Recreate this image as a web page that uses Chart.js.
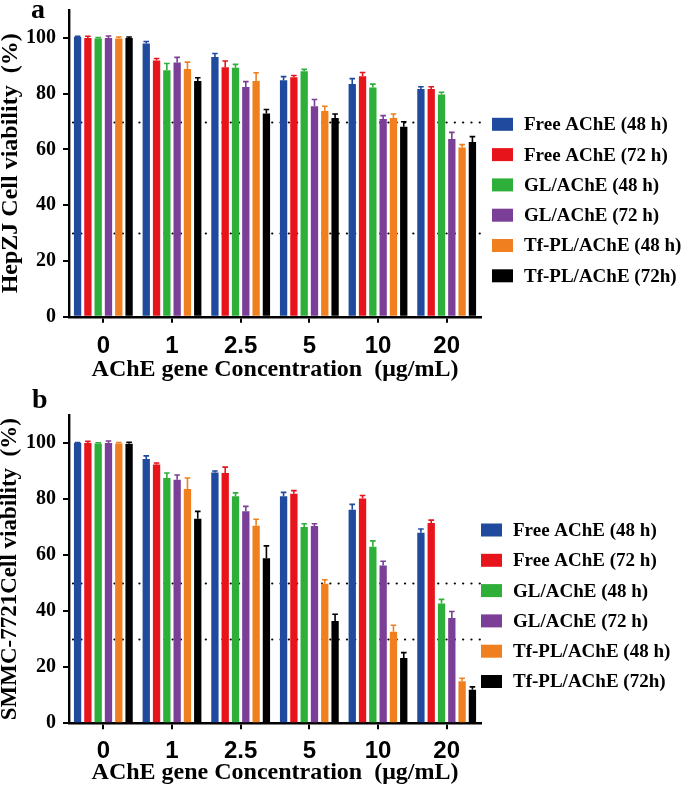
<!DOCTYPE html>
<html>
<head>
<meta charset="utf-8">
<script src="https://cdn.jsdelivr.net/npm/chart.js@4.4.0/dist/chart.umd.min.js"></script>
<style>
  html, body { margin: 0; padding: 0; background: #ffffff; }
  #wrap { position: relative; width: 685px; height: 788px; overflow: hidden; background: #fff; }
  canvas { position: absolute; left: 0; }
  .plabel { position: absolute; font-family: "Liberation Serif", "Times New Roman", serif; font-weight: bold; font-size: 28px; line-height: 1; }
</style>
</head>
<body>
<div id="wrap">
  <canvas id="chartA" width="685" height="390" style="top:0px"></canvas>
  <canvas id="chartB" width="685" height="398" style="top:390px"></canvas>
  <div class="plabel" style="left:31px; top:-5px;">a</div>
  <div class="plabel" style="left:32px; top:385px;">b</div>
</div>
<script>
// ---------------- DATA ----------------
const categories = ['0', '1', '2.5', '5', '10', '20'];
const seriesLabels = ['Free AChE (48 h)', 'Free AChE (72 h)', 'GL/AChE (48 h)', 'GL/AChE (72 h)', 'Tf-PL/AChE (48 h)', 'Tf-PL/AChE (72h)'];
const seriesColors = ['#1F4A9E', '#E8141C', '#2EAF3A', '#7B3F98', '#F0801F', '#000000'];

// Panel a: HepZJ
const hepFree48 = [100.3, 98.0, 93.1, 84.8, 83.5, 81.7];
const hepFree72 = [100.0, 91.9, 89.5, 85.9, 86.2, 81.7];
const hepGL48   = [99.8, 88.4, 89.3, 88.0, 82.2, 79.7];
const hepGL72   = [100.0, 91.2, 82.4, 75.5, 70.9, 63.7];
const hepTf48   = [99.8, 88.8, 84.5, 73.8, 71.3, 60.7];
const hepTf72   = [100.0, 84.5, 72.9, 71.3, 68.1, 62.7];
const hepFree48Err = [0.3, 0.7, 1.3, 1.3, 1.9, 0.8];
const hepFree72Err = [0.6, 0.7, 2.2, 0.6, 1.4, 0.8];
const hepGL48Err   = [0.3, 2.4, 1.2, 0.7, 1.2, 0.8];
const hepGL72Err   = [0.7, 1.8, 1.9, 2.4, 1.2, 2.4];
const hepTf48Err   = [0.5, 2.5, 3.0, 1.7, 1.4, 1.0];
const hepTf72Err   = [0.3, 1.2, 1.4, 1.4, 1.8, 1.9];
const hepRefLines  = [70, 30];

// Panel b: SMMC-7721
const smmcFree48 = [100.0, 94.3, 89.5, 81.0, 76.2, 68.0];
const smmcFree72 = [100.0, 92.3, 89.3, 81.9, 80.2, 71.5];
const smmcGL48   = [99.8, 87.5, 81.0, 70.0, 63.0, 42.7];
const smmcGL72   = [100.0, 86.9, 75.7, 70.4, 56.3, 37.6];
const smmcTf48   = [99.8, 83.6, 70.5, 49.8, 32.7, 15.0];
const smmcTf72   = [99.7, 73.0, 58.9, 36.5, 23.3, 12.0];
const smmcFree48Err = [0.2, 1.1, 0.5, 1.4, 1.9, 1.3];
const smmcFree72Err = [0.6, 0.6, 2.1, 1.1, 1.1, 1.0];
const smmcGL48Err   = [0.3, 1.8, 1.2, 1.2, 2.1, 1.5];
const smmcGL72Err   = [0.7, 1.7, 1.7, 0.8, 1.5, 2.3];
const smmcTf48Err   = [0.4, 3.9, 2.3, 1.4, 2.3, 1.1];
const smmcTf72Err   = [0.6, 2.6, 4.4, 2.4, 1.9, 1.0];
const smmcRefLines  = [50, 30];

const yTicks = [0, 20, 40, 60, 80, 100];
const yMax = 110;

// ---------------- PLUGINS ----------------
const SERIF = '"Liberation Serif", "Times New Roman", serif';
const SANS = '"Liberation Sans", Arial, sans-serif';

const refLinesPlugin = {
  id: 'refLines',
  beforeDatasetsDraw(chart, args, opts) {
    const { ctx, chartArea } = chart;
    const ys = chart.scales.y;
    ctx.save();
    ctx.strokeStyle = '#000';
    ctx.lineWidth = 2.2;
    ctx.lineCap = 'round';
    ctx.setLineDash([0.1, 8.2]);
    (opts.values || []).forEach(v => {
      const y = Math.round(ys.getPixelForValue(v)) + 0.5;
      ctx.beginPath();
      ctx.moveTo(chartArea.left + 4, y);
      ctx.lineTo(chartArea.right - 1, y);
      ctx.stroke();
    });
    ctx.restore();
  }
};

const errorBarsPlugin = {
  id: 'errorBars',
  afterDatasetsDraw(chart) {
    const ctx = chart.ctx;
    const ys = chart.scales.y;
    chart.data.datasets.forEach((ds, i) => {
      const meta = chart.getDatasetMeta(i);
      meta.data.forEach((bar, j) => {
        const e = ds.errors ? ds.errors[j] : 0;
        if (!e) return;
        const yTop = ys.getPixelForValue(ds.data[j] + e);
        ctx.save();
        ctx.strokeStyle = ds.backgroundColor;
        ctx.lineWidth = 1.6;
        ctx.beginPath();
        ctx.moveTo(bar.x, bar.y);
        ctx.lineTo(bar.x, yTop);
        ctx.moveTo(bar.x - 2.8, yTop);
        ctx.lineTo(bar.x + 2.8, yTop);
        ctx.stroke();
        ctx.restore();
      });
    });
  }
};

const sideLegendPlugin = {
  id: 'sideLegend',
  afterDraw(chart, args, opts) {
    const ctx = chart.ctx;
    ctx.save();
    ctx.font = 'bold 19px ' + SERIF;
    ctx.textBaseline = 'middle';
    ctx.textAlign = 'left';
    chart.data.datasets.forEach((ds, i) => {
      const cy = opts.y + i * opts.step;
      ctx.fillStyle = ds.backgroundColor;
      ctx.fillRect(opts.x, cy - 6.5, 21, 13);
      ctx.fillStyle = '#000';
      ctx.fillText(ds.label, opts.x + 32, cy + 1);
    });
    ctx.restore();
  }
};

// ---------------- BUILDER ----------------
function makeChart(id, seriesData, seriesErr, refs, yTitle, cfg) {
  const datasets = seriesData.map((d, i) => ({
    label: seriesLabels[i],
    data: d,
    errors: seriesErr[i],
    backgroundColor: seriesColors[i],
    borderWidth: 0,
    barPercentage: 0.71,
    categoryPercentage: 0.9
  }));
  return new Chart(document.getElementById(id), {
    type: 'bar',
    data: { labels: categories, datasets },
    plugins: [refLinesPlugin, errorBarsPlugin, sideLegendPlugin],
    options: {
      responsive: false,
      animation: false,
      devicePixelRatio: 1,
      layout: { padding: { left: 0, top: cfg.top, right: 204, bottom: 0 } },
      plugins: {
        legend: { display: false },
        tooltip: { enabled: false },
        refLines: { values: refs },
        sideLegend: { x: cfg.legX, y: cfg.legY, step: 30.3 }
      },
      scales: {
        x: {
          offset: true,
          grid: { display: true, drawOnChartArea: false, drawTicks: true, tickLength: 6, offset: false, color: '#000', lineWidth: 2 },
          border: { display: true, color: '#000', width: 2.4 },
          ticks: { color: '#000', font: { family: SANS, weight: 'bold', size: 24 }, padding: cfg.xPad, maxRotation: 0, autoSkip: false },
          title: { display: true, text: 'AChE gene Concentration  (\u03bcg/mL)', color: '#000', font: { family: SERIF, weight: 'bold', size: 24 }, padding: { top: 0, bottom: cfg.titlePad } },
          afterFit(scale) { scale.height = cfg.xH; scale.paddingLeft = 0; scale.paddingRight = 0; }
        },
        y: {
          min: 0, max: yMax,
          grid: { display: true, drawOnChartArea: false, drawTicks: true, tickLength: 6, color: '#000', lineWidth: 2 },
          border: { display: true, color: '#000', width: 2.4 },
          ticks: { color: '#000', font: { family: SERIF, weight: 'bold', size: 20 }, padding: 7 },
          afterBuildTicks(axis) { axis.ticks = yTicks.map(v => ({ value: v })); },
          title: { display: true, text: yTitle, color: '#000', font: { family: SERIF, weight: 'bold', size: cfg.yTitleSize, lineHeight: 0.9 }, padding: { top: 0, bottom: 0 } },
          afterFit(scale) { scale.width = 69; scale.paddingTop = 0; scale.paddingBottom = 0; }
        }
      }
    }
  });
}

makeChart('chartA',
  [hepFree48, hepFree72, hepGL48, hepGL72, hepTf48, hepTf72],
  [hepFree48Err, hepFree72Err, hepGL48Err, hepGL72Err, hepTf48Err, hepTf72Err],
  hepRefLines, 'HepZJ Cell viability  (%)',
  { top: 10, xH: 73.3, xPad: 9, titlePad: 6, legX: 492, legY: 124.3, yTitleSize: 24 });

makeChart('chartB',
  [smmcFree48, smmcFree72, smmcGL48, smmcGL72, smmcTf48, smmcTf72],
  [smmcFree48Err, smmcFree72Err, smmcGL48Err, smmcGL72Err, smmcTf48Err, smmcTf72Err],
  smmcRefLines, 'SMMC-7721Cell viability  (%)',
  { top: 25, xH: 64.7, xPad: 8, titlePad: 1, legX: 481, legY: 140, yTitleSize: 23 });
</script>
</body>
</html>
